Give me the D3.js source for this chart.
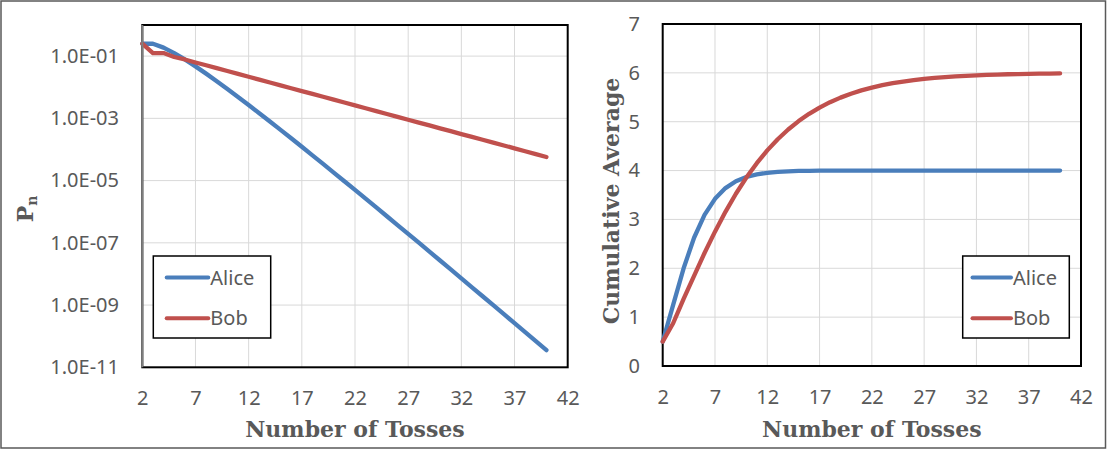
<!DOCTYPE html>
<html>
<head>
<meta charset="utf-8">
<script src="https://cdn.jsdelivr.net/npm/d3@7"></script>
<style>
  body { margin: 0; background: #fff; }
  .tick text { font-family: "Noto Sans", sans-serif; font-size: 20px; fill: #595959; }
  .title { font-family: "DejaVu Serif", serif; font-weight: bold; font-size: 22px; fill: #595959; }
  .legend text { font-family: "Noto Sans", sans-serif; font-size: 20px; fill: #595959; }
</style>
</head>
<body>
<div id="my_dataviz"></div>
<script>
// number of tosses (x values)
const tosses = [2,3,4,5,6,7,8,9,10,11,12,13,14,15,16,17,18,19,20,21,
                22,23,24,25,26,27,28,29,30,31,32,33,34,35,36,37,38,39,40];

// probability that the game ends at toss n
const aliceP = [0.25,0.25,0.1875,0.125,0.078125,0.046875,0.02734,0.015625,0.008789,0.004883,
                0.002686,0.001465,7.93e-4,4.27e-4,2.29e-4,1.22e-4,6.49e-5,3.43e-5,1.81e-5,9.54e-6,
                5.01e-6,2.62e-6,1.37e-6,7.15e-7,3.73e-7,1.94e-7,1.01e-7,5.22e-8,2.70e-8,1.40e-8,
                7.22e-9,3.73e-9,1.92e-9,9.90e-10,5.09e-10,2.62e-10,1.35e-10,6.91e-11,3.55e-11];
const bobP = [0.25,0.125,0.125,0.09375,0.078125,0.0625,0.05078,0.04102,0.0332,0.02686,
              0.02173,0.01758,0.01422,0.01151,0.009308,0.00753,0.006092,0.004929,0.003987,0.003226,
              0.00261,0.002111,0.001708,0.001382,0.001118,9.04e-4,7.32e-4,5.92e-4,4.79e-4,3.87e-4,
              3.13e-4,2.54e-4,2.05e-4,1.66e-4,1.34e-4,1.09e-4,8.79e-5,7.11e-5,5.75e-5];

// cumulative average
const aliceAvg = [0.5,1.25,2.0,2.625,3.094,3.422,3.641,3.781,3.869,3.923,
                  3.955,3.974,3.985,3.992,3.995,3.997,3.999,3.999,4.0,4.0,
                  4.0,4.0,4.0,4.0,4.0,4.0,4.0,4.0,4.0,4.0,
                  4.0,4.0,4.0,4.0,4.0,4.0,4.0,4.0,4.0];
const bobAvg = [0.5,0.875,1.375,1.844,2.313,2.75,3.156,3.525,3.857,4.152,
                4.413,4.642,4.841,5.013,5.162,5.290,5.400,5.493,5.573,5.641,
                5.698,5.747,5.788,5.822,5.851,5.876,5.896,5.913,5.928,5.940,
                5.950,5.958,5.965,5.971,5.976,5.980,5.983,5.986,5.988];

// tick labels
const xTicks = [2,7,12,17,22,27,32,37,42];
const logTicks = [1e-1,1e-3,1e-5,1e-7,1e-9,1e-11];
const avgTicks = [0,1,2,3,4,5,6,7];

const seriesNames = ["Alice", "Bob"];
const colors = { Alice: "#4a7ebb", Bob: "#c0504d" };

const width = 1108, height = 450;

const svg = d3.select("#my_dataviz")
  .append("svg")
    .attr("width", width)
    .attr("height", height);

// outer frame
svg.append("rect")
  .attr("x", 1).attr("y", 1)
  .attr("width", 1104.5).attr("height", 447)
  .attr("fill", "white")
  .attr("stroke", "#595959")
  .attr("stroke-width", 1.5);

function drawPanel(opts) {
  const { left, right, top, bottom, y, yTicks, yFormat, gridY, data, legend } = opts;

  const x = d3.scaleLinear().domain([2, 42]).range([left, right]);
  const g = svg.append("g");

  // vertical gridlines
  g.selectAll("vgrid")
    .data(xTicks.slice(1, -1))
    .join("line")
      .attr("x1", d => x(d)).attr("x2", d => x(d))
      .attr("y1", top).attr("y2", bottom)
      .attr("stroke", "#d9d9d9").attr("stroke-width", 1);

  // horizontal gridlines
  g.selectAll("hgrid")
    .data(gridY)
    .join("line")
      .attr("x1", left).attr("x2", right)
      .attr("y1", d => y(d)).attr("y2", d => y(d))
      .attr("stroke", "#d9d9d9").attr("stroke-width", 1);

  // plot area border
  g.append("rect")
    .attr("x", left).attr("y", top)
    .attr("width", right - left).attr("height", bottom - top)
    .attr("fill", "none")
    .attr("stroke", "black")
    .attr("stroke-width", 2);

  // X axis
  const xAxis = g.append("g")
    .attr("transform", `translate(0,${bottom})`)
    .call(d3.axisBottom(x).tickValues(xTicks).tickSize(0).tickPadding(23.5));
  xAxis.select(".domain").remove();

  // Y axis
  const yAxis = g.append("g")
    .attr("transform", `translate(${left},0)`)
    .call(d3.axisLeft(y).tickValues(yTicks).tickFormat(yFormat).tickSize(0).tickPadding(opts.yPad));
  yAxis.select(".domain").remove();

  // the lines
  const line = d3.line()
    .x((d, i) => x(tosses[i]))
    .y(d => y(d));
  g.selectAll("myLines")
    .data(seriesNames)
    .join("path")
      .attr("d", d => line(data[d]))
      .attr("fill", "none")
      .attr("stroke", d => colors[d])
      .attr("stroke-width", 4.3)
      .attr("stroke-linejoin", "round")
      .attr("stroke-linecap", "round");

  // x title
  g.append("text")
    .attr("class", "title")
    .attr("x", (left + right) / 2)
    .attr("y", 436.5)
    .attr("text-anchor", "middle")
    .text("Number of Tosses");

  // legend box
  const lg = g.append("g").attr("class", "legend");
  lg.append("rect")
    .attr("x", legend.x0).attr("y", 256)
    .attr("width", legend.x1 - legend.x0).attr("height", 82)
    .attr("fill", "white")
    .attr("stroke", "black")
    .attr("stroke-width", 1.5);
  const item = lg.selectAll("myLegend")
    .data(seriesNames)
    .join("g")
      .attr("transform", (d, i) => `translate(0,${277.5 + i * 40.7})`);
  item.append("line")
    .attr("x1", legend.l0).attr("x2", legend.l1)
    .attr("stroke", d => colors[d])
    .attr("stroke-width", 4)
    .attr("stroke-linecap", "round");
  item.append("text")
    .attr("x", legend.l1 + 2)
    .attr("y", 7)
    .text(d => d);
}

// left panel: probability on a log scale
const yLog = d3.scaleLog().domain([1e-11, 1]).range([367.3, 25]);
const pad2 = n => (n < 10 ? "0" : "") + n;
drawPanel({
  left: 142.3, right: 567.7, top: 25, bottom: 367.3,
  y: yLog, yTicks: logTicks, yPad: 23.3,
  yFormat: d => { const e = Math.round(Math.log10(d)); return "1.0E" + (e < 0 ? "-" : "+") + pad2(Math.abs(e)); },
  gridY: logTicks.slice(0, -1),
  data: { Alice: aliceP, Bob: bobP },
  legend: { x0: 153.3, x1: 270.7, l0: 166.7, l1: 208.3 }
});

// left axis line is grey in the original
svg.append("line")
  .attr("x1", 142.3).attr("x2", 142.3)
  .attr("y1", 25).attr("y2", 367.3)
  .attr("stroke", "#7f7f7f").attr("stroke-width", 2);

// right panel: cumulative average
const yAvg = d3.scaleLinear().domain([0, 7]).range([366, 24]);
drawPanel({
  left: 662.7, right: 1081, top: 24, bottom: 366,
  y: yAvg, yTicks: avgTicks, yPad: 22.7,
  yFormat: d3.format("d"),
  gridY: avgTicks.slice(1, -1),
  data: { Alice: aliceAvg, Bob: bobAvg },
  legend: { x0: 962.7, x1: 1069.3, l0: 972.5, l1: 1011 }
});

// y titles
svg.append("text")
  .attr("class", "title")
  .attr("transform", "translate(33,209) rotate(-90)")
  .attr("text-anchor", "middle")
  .html('P<tspan font-size="14" dy="4">n</tspan>');

svg.append("text")
  .attr("class", "title")
  .attr("transform", "translate(619,201) rotate(-90)")
  .attr("text-anchor", "middle")
  .text("Cumulative Average");
</script>
</body>
</html>
